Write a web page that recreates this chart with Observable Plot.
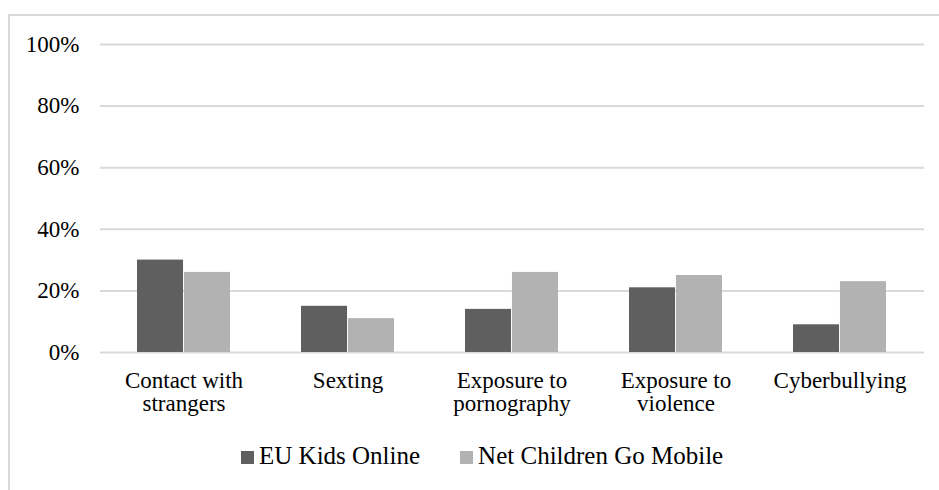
<!DOCTYPE html>
<html>
<head>
<meta charset="utf-8">
<script src="https://cdn.jsdelivr.net/npm/d3@7"></script>
<script src="https://cdn.jsdelivr.net/npm/@observablehq/plot@0.6"></script>
<style>
  body { margin: 0; background: #fff; font-family: "Liberation Serif", serif; }
  #wrap { position: relative; width: 939px; height: 490px; overflow: hidden; }
  #frame { position: absolute; left: 8px; top: 14px; right: -10px; bottom: -10px;
           border-top: 2px solid #d9d9d9; border-left: 2px solid #d9d9d9; }
  #chart { position: absolute; left: 0; top: 0; }
  #legend { position: absolute; left: 241px; top: 443px; font-size: 25px; line-height: 1;
            color: #000; white-space: nowrap; }
  .swatch { display: inline-block; width: 13px; height: 13px; margin-right: 5px; vertical-align: baseline; }
  .gap { display: inline-block; width: 40px; }
</style>
</head>
<body>
<div id="wrap">
  <div id="frame"></div>
  <div id="chart"></div>
  <div id="legend"></div>
</div>
<script>
// Online risks reported by children, two surveys
const categories = ["Contact with\nstrangers", "Sexting", "Exposure to\npornography", "Exposure to\nviolence", "Cyberbullying"];
const euKidsOnline = [30, 15, 14, 21, 9];
const netChildrenGoMobile = [26, 11, 26, 25, 23];
const seriesNames = ["EU Kids Online", "Net Children Go Mobile"];
const seriesColors = ["#5f5f5f", "#b2b2b2"];
const yTicks = [0, 20, 40, 60, 80, 100];

const font = '"Liberation Serif"';

const rows = [];
categories.forEach((c, i) => {
  rows.push({category: c, series: seriesNames[0], value: euKidsOnline[i]});
  rows.push({category: c, series: seriesNames[1], value: netChildrenGoMobile[i]});
});

const width = 939, marginLeft = 100, marginRight = 15;
const paddingInner = 0.43, paddingOuter = paddingInner / 2;
const bandwidth = (width - marginLeft - marginRight) / categories.length * (1 - paddingInner);
const half = bandwidth / 2;

const chart = Plot.plot({
  width,
  height: 420,
  marginLeft,
  marginRight,
  marginTop: 44,
  marginBottom: 68,
  style: { fontFamily: font, fontSize: "23px", color: "#000", background: "transparent" },
  x: { domain: categories, paddingInner, paddingOuter, axis: null },
  y: { domain: [0, 100], axis: null },
  color: { domain: seriesNames, range: seriesColors },
  marks: [
    Plot.ruleY(yTicks, { stroke: "#d9d9d9", strokeWidth: 2 }),
    Plot.barY(rows.filter(d => d.series === seriesNames[0]),
      { x: "category", y: "value", fill: "series", insetLeft: 0, insetRight: half }),
    Plot.barY(rows.filter(d => d.series === seriesNames[1]),
      { x: "category", y: "value", fill: "series", insetLeft: half, insetRight: 0 }),
    Plot.axisY({ ticks: yTicks, tickFormat: d => d + "%", tickSize: 0, tickPadding: 21, label: null, fontSize: 23 }),
    Plot.axisX({ tickSize: 0, tickPadding: 19, label: null, fontSize: 23, lineHeight: 1 })
  ]
});
document.getElementById("chart").appendChild(chart);

// Legend: swatch + series name, in one row below the chart
const legend = document.getElementById("legend");
seriesNames.forEach((name, i) => {
  if (i > 0) {
    const gap = document.createElement("span");
    gap.className = "gap";
    legend.appendChild(gap);
  }
  const sw = document.createElement("span");
  sw.className = "swatch";
  sw.style.background = seriesColors[i];
  const label = document.createElement("span");
  label.textContent = name;
  legend.appendChild(sw);
  legend.appendChild(label);
});
</script>
</body>
</html>
